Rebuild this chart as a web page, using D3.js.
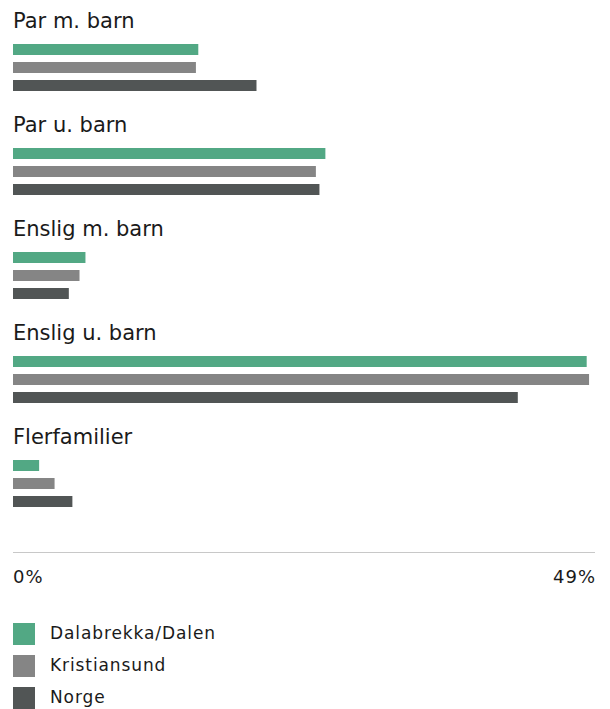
<!DOCTYPE html>
<html><head><meta charset="utf-8">
<script src="https://cdn.jsdelivr.net/npm/d3@7"></script>
<style>body{margin:0;background:#fff}svg{display:block}text{font-family:"DejaVu Sans",sans-serif;fill:#1a1a1a}</style>
</head><body><svg id="c" width="610" height="709"></svg>
<script>
const categories = ["Par m. barn","Par u. barn","Enslig m. barn","Enslig u. barn","Flerfamilier"];
const seriesNames = ["Dalabrekka/Dalen","Kristiansund","Norge"];
const dalabrekka = [15.6, 26.3, 6.1, 48.3, 2.2];
const kristiansund = [15.4, 25.5, 5.6, 48.5, 3.5];
const norge = [20.5, 25.8, 4.7, 42.5, 5.0];
const tickLabels = ["0%","49%"];
const axisMax = 49;
const colors = ["#52a884","#858585","#515555"];

const series = [dalabrekka, kristiansund, norge];
const svg = d3.select("#c");
const x = d3.scaleLinear().domain([0, axisMax]).range([13, 595]);
const g = d3.scaleBand().domain(categories).range([10, 530]).paddingInner(0).paddingOuter(0);
const inner = d3.scaleBand().domain(seriesNames).range([34, 81]).paddingInner(7/18).paddingOuter(0);

categories.forEach((c, ci) => {
  const grp = svg.append("g").attr("transform", `translate(0,${g(c)})`);
  grp.append("text").attr("x", 13).attr("y", 18).attr("font-size", 21).text(c);
  seriesNames.forEach((s, si) => {
    grp.append("rect").attr("x", x(0)).attr("y", inner(s))
      .attr("width", x(series[si][ci]) - x(0)).attr("height", inner.bandwidth())
      .attr("fill", colors[si]);
  });
});

svg.append("line").attr("x1", x(0)).attr("x2", x(axisMax)).attr("y1", 552.5).attr("y2", 552.5)
  .attr("stroke", "#c8c8c8").attr("stroke-width", 1.2);
svg.append("text").attr("x", x(0)).attr("y", 583).attr("font-size", 18).attr("letter-spacing", 1).text(tickLabels[0]);
svg.append("text").attr("x", x(axisMax) + 1).attr("y", 583).attr("font-size", 18).attr("letter-spacing", 1).attr("text-anchor","end").text(tickLabels[1]);

const leg = svg.append("g");
seriesNames.forEach((s, si) => {
  const yy = 623 + si * 32;
  leg.append("rect").attr("x", 13).attr("y", yy).attr("width", 22).attr("height", 22).attr("fill", colors[si]);
  leg.append("text").attr("x", 50).attr("y", yy + 16).attr("font-size", 17).attr("letter-spacing", 0.9).text(s);
});
</script></body></html>
